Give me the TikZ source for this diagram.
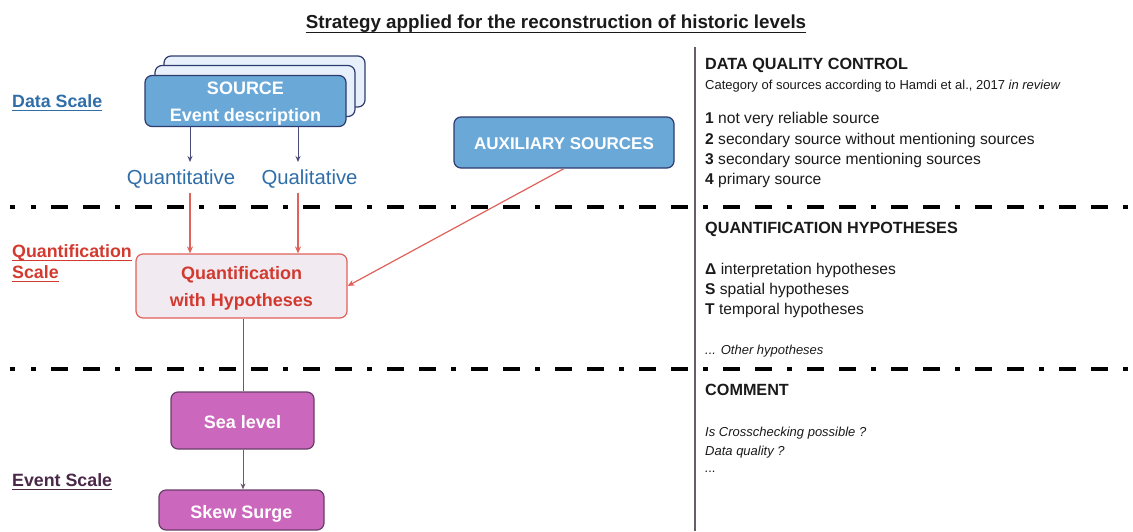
\documentclass[tikz,border=0pt]{standalone}
\usepackage{fontspec}
\setmainfont{Liberation Sans}
\usetikzlibrary{arrows.meta}
\definecolor{navy}{HTML}{2E3B6E}
\definecolor{srcblue}{HTML}{6AA8D8}
\definecolor{lightblue}{HTML}{E8F0FB}
\definecolor{scaleblue}{HTML}{2F6EA8}
\definecolor{qred}{HTML}{D23A30}
\definecolor{lred}{HTML}{E0605A}
\definecolor{qfill}{HTML}{F1EBF1}
\definecolor{magent}{HTML}{CB67BC}
\definecolor{dpurple}{HTML}{6A3E6A}
\definecolor{evpurple}{HTML}{4A2848}
\definecolor{slate}{HTML}{4A4A78}
\definecolor{txt}{HTML}{1A1A1A}
\definecolor{divider}{HTML}{6B5A6B}
\newcommand\twolines[2]{\begin{tabular}[t]{@{}c@{}}#1\\#2\end{tabular}}
\begin{document}
\begin{tikzpicture}[x=1pt,y=-1pt,
  fbox/.style={draw, rounded corners=7pt, line width=1.2pt, inner sep=0pt, text=white,
    font=\fontsize{18}{27}\selectfont\bfseries},
  twoline/.style={text height=0pt, text depth=13.1pt},
  bluebox/.style={fbox, fill=srcblue, draw=navy},
  backbox/.style={fbox, fill=lightblue, draw=navy},
  magbox/.style={fbox, fill=magent, draw=dpurple},
  scalelbl/.style={inner sep=0pt, anchor=base west, font=\fontsize{17.8}{21}\selectfont\bfseries},
  rt/.style={inner sep=0pt, anchor=base west, text=txt, font=\fontsize{15.6}{18}\selectfont},
  rthead/.style={rt, font=\fontsize{16.2}{18}\selectfont\bfseries},
  rtsmall/.style={rt, font=\fontsize{13}{15}\selectfont},
  dashdot/.style={line width=4.5pt, dash pattern=on 5pt off 15pt on 17pt off 15pt on 17pt off 15pt},
  darr/.style={slate, line width=0.9pt, -{Stealth[length=6pt,width=5pt]}},
  rarr/.style={lred, line width=1.2pt, -{Stealth[length=7pt,width=6pt]}},
  pline/.style={divider, line width=1pt},
  parr/.style={divider, line width=1pt, -{Stealth[length=6pt,width=5pt]}},
  sublbl/.style={inner sep=0pt, anchor=base, text=scaleblue, font=\fontsize{20.3}{24}\selectfont}
]
\useasboundingbox (0,0) rectangle (1133,531);

% title
\node[inner sep=0pt, anchor=base, font=\fontsize{18.8}{22}\selectfont\bfseries, text=txt] (title) at (556,28)
  {Strategy applied for the reconstruction of historic levels};
\draw[txt, line width=1.8pt] ([yshift=-4.5pt]title.base west) -- ([yshift=-4.5pt]title.base east);

% dash-dot separators
\fill (10,204.75) rectangle (15,209.25);
\draw[dashdot] (31,207) -- (1133,207);
\fill (10,366.75) rectangle (15,371.25);
\draw[dashdot] (31,369) -- (1133,369);

% divider
\draw[divider, line width=1.2pt] (695,47) -- (695,531);

% scale labels
\node[scalelbl, text=scaleblue] (ds) at (12,107) {Data Scale};
\draw[scaleblue, line width=1.3pt] ([yshift=-3.5pt]ds.base west) -- ([yshift=-3.5pt]ds.base east);
\node[scalelbl, text=qred] (qs1) at (12,257) {Quantification};
\draw[qred, line width=1.3pt] ([yshift=-3.5pt]qs1.base west) -- ([yshift=-3.5pt]qs1.base east);
\node[scalelbl, text=qred] (qs2) at (12,278) {Scale};
\draw[qred, line width=1.3pt] ([yshift=-3.5pt]qs2.base west) -- ([yshift=-3.5pt]qs2.base east);
\node[scalelbl, text=evpurple] (es) at (12,486) {Event Scale};
\draw[evpurple, line width=1.3pt] ([yshift=-3.5pt]es.base west) -- ([yshift=-3.5pt]es.base east);

% source stack
\node[backbox, minimum width=201pt, minimum height=51pt] (src3) at (264.5,81.5) {};
\node[backbox, minimum width=200pt, minimum height=51pt] (src2) at (255,91) {};
\node[bluebox, twoline, minimum width=201pt, minimum height=51pt] (src) at (245.5,101)
  {\twolines{SOURCE}{Event description}};

% quantitative / qualitative
\node[sublbl] (qt) at (181,184) {Quantitative};
\node[sublbl] (ql) at (309.5,184) {Qualitative};
\coordinate (qtin) at (190,162);
\coordinate (qlin) at (298,162);
\coordinate (qtout) at (190,193);
\coordinate (qlout) at (298,193);
\draw[darr] (src.south -| qtin) -- (qtin);
\draw[darr] (src.south -| qlin) -- (qlin);

% auxiliary
\node[bluebox, minimum width=220pt, minimum height=51pt, text height=13.2pt, text depth=0pt,
  font=\fontsize{17}{20}\selectfont\bfseries] (aux) at (564,142.5) {AUXILIARY SOURCES};

% quantification box
\node[fbox, twoline, fill=qfill, draw=lred, text=qred, minimum width=211pt, minimum height=64pt] (quant) at (241.5,286)
  {\twolines{Quantification}{with Hypotheses}};
\draw[rarr] (qtout) -- (quant.north -| qtout);
\draw[rarr] (qlout) -- (quant.north -| qlout);
\draw[rarr] (aux.south) -- (quant.east);

% event boxes
\node[magbox, minimum width=143pt, minimum height=57pt, text height=15.9pt, text depth=0pt] (sea) at (242.5,420.5) {Sea level};
\node[magbox, minimum width=165pt, minimum height=40pt, text height=16.9pt, text depth=0pt] (skew) at (241.5,510) {Skew Surge};
\coordinate (evx) at (243,0);
\draw[pline] (quant.south -| evx) -- (sea.north -| evx);
\draw[parr] (sea.south -| evx) -- (skew.north -| evx);

% right panel
\node[rthead] (h1) at (705,69.5) {DATA QUALITY CONTROL};
\node[rtsmall] (c1) at (705,89) {Category of sources according to Hamdi et al., 2017 \textit{in review}};
\node[rt] (l1) at (705,123) {\textbf{1} not very reliable source};
\node[rt] (l2) at (705,144) {\textbf{2} secondary source without mentioning sources};
\node[rt] (l3) at (705,164.5) {\textbf{3} secondary source mentioning sources};
\node[rt] (l4) at (705,184.5) {\textbf{4} primary source};

\node[rthead] (h2) at (705,233.5) {QUANTIFICATION HYPOTHESES};
\node[rt] (m1) at (705,274.5) {\textbf{Δ} interpretation hypotheses};
\node[rt] (m2) at (705,294.5) {\textbf{S} spatial hypotheses};
\node[rt] (m3) at (705,314.5) {\textbf{T} temporal hypotheses};
\node[rtsmall] (m4) at (705,354) {\textit{... Other hypotheses}};

\node[rthead] (h3) at (705,395.5) {COMMENT};
\node[rtsmall] (n1) at (705,436.5) {\textit{Is Crosschecking possible ?}};
\node[rtsmall] (n2) at (705,455.5) {\textit{Data quality ?}};
\node[rtsmall] (n3) at (705,472) {\textit{...}};
\end{tikzpicture}
\end{document}
